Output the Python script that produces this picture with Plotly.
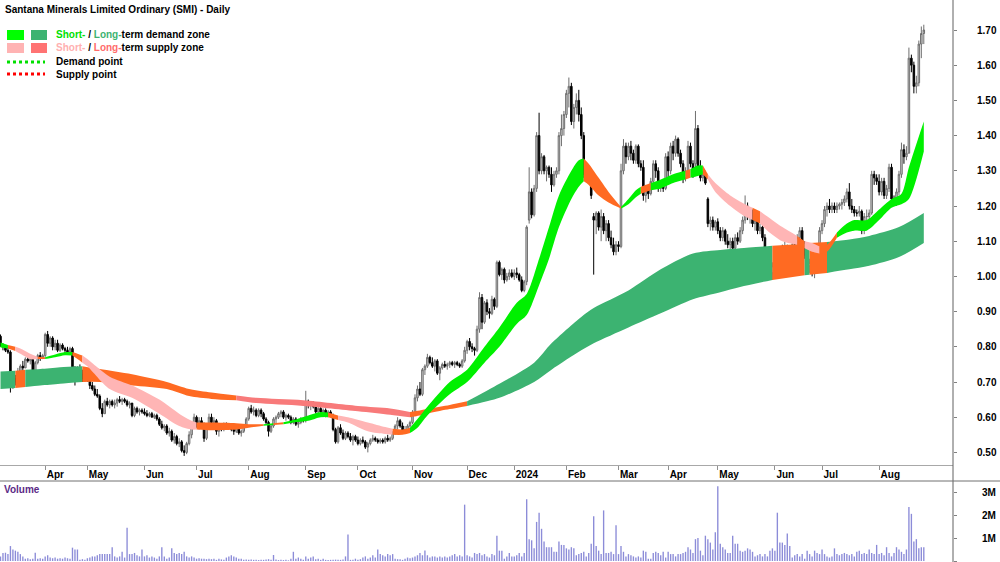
import pandas as pd
import plotly.graph_objects as go

# ---------------- calendar (ASX trading days) ----------------
holidays = ["2023-04-07", "2023-04-10", "2023-04-25", "2023-06-12", "2023-12-25", "2023-12-26",
            "2024-01-01", "2024-01-26", "2024-03-29", "2024-04-01", "2024-04-25", "2024-06-10"]
days = [d for d in pd.bdate_range("2023-03-08", "2024-08-27") if d.strftime("%Y-%m-%d") not in holidays]

# ---------------- OHLC (A$) ----------------
opens = [
    .83, .805, .80, .79, .785, .69, .71, .70, .73, .745, .74, .765, .76, .765, .725, .755, .775, .77,
    .775, .835, .81, .825, .80, .81, .79, .805, .795, .79, .785, .795, .735, .72, .74, .725, .71,
    .72, .705, .69, .68, .665, .66, .625, .61, .645, .635, .645, .635, .64, .65, .645, .65, .645, .635, .64, .605, .625, .615, .62,
    .615, .61, .605, .61, .60, .605, .595, .58, .57, .575, .555, .56, .535, .545, .525, .53, .505, .50, .525, .55, .575,
    .60, .575, .59, .58, .54, .57, .60, .585, .59, .56, .575, .565, .58, .575, .578, .565, .56, .57, .555, .56, .575,
    .595, .625, .615, .62, .605, .62, .61, .595, .585, .56, .575, .595, .60, .61, .615, .60, .605, .60, .585, .595, .58, .585, .595,
    .59, .645, .635, .64, .63, .615, .625, .615, .62, .605, .615, .605, .565, .53, .57, .555, .54, .555, .545, .535, .545,
    .535, .525, .535, .53, .515, .525, .535, .54, .535, .53, .535, .53, .54, .535, .54, .555, .575, .59, .575, .56, .565, .575,
    .585, .61, .655, .68, .665, .735, .745, .77, .755, .745, .76, .725, .74, .75, .745, .75, .755, .75, .755, .75, .745, .76,
    .79, .815, .80, .795, .79, .85, .94, .87, .925, .90, .895, .935, .915, 1.04, 1.005, 1.02, .99, 1.00, 1.01,
    1.00, 1.01, 1.005, .99, .96, .985, 1.16, 1.24, 1.175, 1.25, 1.40, 1.30, 1.34, 1.30, 1.31, 1.29, 1.26, 1.29, 1.30, 1.40, 1.42,
    1.46, 1.52, 1.54, 1.44, 1.48, 1.50, 1.46, 1.40, 1.29, 1.30, 1.28, 1.17, 1.16, 1.18, 1.14, 1.17, 1.13, 1.15, 1.11, 1.09, 1.07,
    1.09, 1.085, 1.30, 1.37, 1.34, 1.37, 1.35, 1.33, 1.37, 1.32, 1.31, 1.23, 1.25, 1.235, 1.27, 1.32, 1.30, 1.25, 1.26, 1.25,
    1.34, 1.30, 1.37, 1.35, 1.39, 1.35, 1.32, 1.28, 1.30, 1.37, 1.32, 1.32, 1.42, 1.31, 1.28, 1.29, 1.22, 1.15, 1.16, 1.14,
    1.155, 1.13, 1.11, 1.13, 1.10, 1.09, 1.10, 1.08, 1.11, 1.10, 1.13, 1.16, 1.20, 1.17, 1.18, 1.15, 1.16, 1.13, 1.14, 1.11, 1.05, 1.07, 1.01,
    1.03, 1.05, 1.03, 1.07, 1.06, 1.08, 1.05, 1.07, 1.09, 1.05, 1.11, 1.13, 1.09, 1.06, 1.03, 1.04, 1.01, 1.02, 1.05,
    1.13, 1.15, 1.19, 1.20, 1.19, 1.20, 1.19, 1.20, 1.205, 1.21, 1.22, 1.24, 1.20, 1.19, 1.18, 1.18, 1.185, 1.13, 1.17, 1.17, 1.18, 1.29, 1.28,
    1.27, 1.24, 1.27, 1.23, 1.25, 1.31, 1.22, 1.21, 1.24, 1.29, 1.36, 1.34, 1.35, 1.62, 1.60, 1.54, 1.55, 1.66, 1.69,
]
highs = [
    .835, .81, .805, .80, .79, .72, .72, .74, .75, .76, .77, .775, .77, .765, .76, .78, .785, .78,
    .84, .845, .83, .83, .82, .82, .81, .81, .80, .80, .80, .80, .745, .745, .75, .735, .73,
    .725, .71, .70, .69, .68, .665, .64, .65, .655, .65, .65, .65, .655, .66, .655, .655, .65, .645, .64, .63, .63, .625, .625,
    .625, .62, .615, .615, .61, .61, .60, .59, .58, .58, .57, .565, .555, .55, .54, .535, .52, .53, .56, .58, .61,
    .605, .60, .60, .585, .575, .61, .61, .60, .595, .58, .58, .585, .585, .58, .58, .57, .575, .575, .565, .58, .60,
    .63, .635, .63, .625, .625, .625, .615, .60, .59, .58, .60, .605, .615, .62, .62, .61, .61, .605, .60, .60, .59, .60, .60,
    .675, .65, .645, .645, .64, .63, .63, .625, .625, .62, .62, .61, .57, .575, .58, .565, .56, .56, .555, .55, .55,
    .545, .54, .545, .535, .53, .54, .55, .545, .54, .54, .54, .545, .55, .545, .56, .58, .60, .595, .585, .575, .58, .59,
    .62, .665, .69, .70, .74, .75, .78, .775, .77, .765, .765, .745, .755, .76, .755, .76, .76, .76, .76, .755, .765, .80,
    .82, .825, .81, .80, .86, .955, .95, .93, .935, .91, .945, .94, 1.045, 1.045, 1.025, 1.025, 1.01, 1.02, 1.02,
    1.02, 1.025, 1.01, 1.00, .99, 1.145, 1.31, 1.25, 1.26, 1.41, 1.465, 1.35, 1.345, 1.315, 1.315, 1.31, 1.30, 1.31, 1.41, 1.46, 1.47,
    1.53, 1.565, 1.55, 1.49, 1.52, 1.53, 1.48, 1.41, 1.32, 1.31, 1.29, 1.18, 1.185, 1.185, 1.19, 1.18, 1.16, 1.16, 1.13, 1.11, 1.10,
    1.10, 1.32, 1.39, 1.38, 1.38, 1.385, 1.36, 1.375, 1.375, 1.33, 1.33, 1.26, 1.255, 1.28, 1.33, 1.33, 1.31, 1.27, 1.27, 1.35,
    1.355, 1.38, 1.385, 1.40, 1.395, 1.36, 1.33, 1.31, 1.385, 1.38, 1.33, 1.47, 1.43, 1.33, 1.30, 1.30, 1.225, 1.17, 1.17, 1.16,
    1.165, 1.14, 1.14, 1.135, 1.12, 1.11, 1.11, 1.12, 1.125, 1.14, 1.17, 1.23, 1.21, 1.19, 1.19, 1.17, 1.17, 1.15, 1.145, 1.12, 1.08, 1.085, 1.04,
    1.06, 1.07, 1.08, 1.09, 1.10, 1.09, 1.08, 1.10, 1.10, 1.12, 1.14, 1.14, 1.10, 1.07, 1.05, 1.045, 1.03, 1.06, 1.14,
    1.16, 1.20, 1.21, 1.22, 1.21, 1.21, 1.21, 1.21, 1.22, 1.23, 1.25, 1.265, 1.22, 1.20, 1.19, 1.20, 1.19, 1.18, 1.19, 1.19, 1.30, 1.30, 1.29,
    1.29, 1.28, 1.28, 1.26, 1.32, 1.32, 1.23, 1.25, 1.30, 1.38, 1.375, 1.37, 1.65, 1.63, 1.61, 1.57, 1.67, 1.71, 1.715,
]
lows = [
    .80, .79, .785, .78, .67, .68, .69, .70, .72, .73, .74, .755, .75, .72, .72, .75, .76, .765,
    .77, .80, .80, .79, .79, .785, .785, .79, .78, .78, .78, .73, .69, .715, .72, .70, .70,
    .70, .68, .675, .66, .655, .62, .60, .61, .63, .625, .63, .625, .63, .64, .635, .64, .63, .625, .60, .60, .61, .605, .61,
    .605, .60, .60, .60, .595, .59, .575, .565, .56, .55, .545, .53, .525, .52, .515, .50, .49, .495, .52, .54, .57,
    .57, .565, .57, .53, .535, .565, .58, .575, .55, .545, .56, .56, .57, .57, .56, .55, .555, .55, .545, .555, .57,
    .59, .61, .605, .60, .60, .60, .59, .58, .545, .555, .57, .58, .595, .60, .595, .59, .595, .58, .58, .575, .57, .58, .585,
    .585, .625, .62, .625, .61, .61, .61, .60, .60, .60, .60, .56, .525, .525, .55, .535, .535, .54, .53, .52, .53,
    .52, .52, .525, .51, .50, .52, .53, .53, .525, .525, .525, .525, .53, .53, .535, .55, .565, .57, .555, .555, .56, .57,
    .58, .605, .645, .66, .66, .72, .74, .75, .74, .73, .72, .705, .735, .74, .735, .74, .745, .74, .745, .74, .74, .755,
    .78, .79, .785, .775, .785, .84, .85, .865, .89, .88, .89, .905, .91, 1.00, .99, .98, .985, .99, .995,
    .99, .995, .985, .955, .955, .975, 1.15, 1.165, 1.17, 1.24, 1.29, 1.29, 1.29, 1.27, 1.28, 1.24, 1.255, 1.28, 1.29, 1.37, 1.40,
    1.45, 1.48, 1.43, 1.42, 1.46, 1.44, 1.39, 1.28, 1.27, 1.27, 1.22, 1.005, 1.12, 1.13, 1.10, 1.12, 1.10, 1.10, 1.08, 1.06, 1.06,
    1.07, 1.08, 1.29, 1.32, 1.33, 1.33, 1.32, 1.32, 1.31, 1.30, 1.215, 1.21, 1.22, 1.23, 1.26, 1.28, 1.24, 1.24, 1.24, 1.245,
    1.28, 1.29, 1.33, 1.34, 1.34, 1.31, 1.265, 1.27, 1.29, 1.31, 1.28, 1.30, 1.30, 1.27, 1.27, 1.26, 1.14, 1.13, 1.13, 1.13,
    1.12, 1.10, 1.10, 1.09, 1.08, 1.075, 1.07, 1.075, 1.09, 1.095, 1.12, 1.15, 1.16, 1.15, 1.14, 1.13, 1.12, 1.12, 1.10, 1.04, 1.02, 1.00, .99,
    1.00, 1.02, 1.02, 1.05, 1.05, 1.04, 1.04, 1.06, 1.04, 1.05, 1.10, 1.08, 1.05, 1.02, 1.01, 1.00, .995, 1.01, 1.04,
    1.12, 1.14, 1.17, 1.18, 1.18, 1.18, 1.18, 1.19, 1.19, 1.20, 1.21, 1.19, 1.18, 1.17, 1.17, 1.17, 1.12, 1.12, 1.16, 1.16, 1.175, 1.26, 1.26,
    1.23, 1.23, 1.22, 1.22, 1.24, 1.21, 1.20, 1.20, 1.23, 1.28, 1.32, 1.33, 1.35, 1.58, 1.52, 1.52, 1.54, 1.62, 1.66,
]
closes = [
    .805, .80, .79, .785, .69, .71, .70, .73, .745, .74, .765, .76, .765, .725, .755, .775, .77, .775,
    .835, .81, .825, .80, .81, .79, .805, .795, .79, .785, .795, .735, .72, .74, .725, .71, .72,
    .705, .69, .68, .665, .66, .625, .61, .645, .635, .645, .635, .64, .65, .645, .65, .645, .635, .64, .605, .625, .615, .62, .615,
    .61, .605, .61, .60, .605, .595, .58, .57, .575, .555, .56, .535, .545, .525, .53, .505, .50, .525, .55, .575, .60,
    .575, .59, .58, .54, .57, .60, .585, .59, .56, .575, .565, .58, .575, .578, .565, .56, .57, .555, .56, .575, .595,
    .625, .615, .62, .605, .62, .61, .595, .585, .56, .575, .595, .60, .61, .615, .60, .605, .60, .585, .595, .58, .585, .595, .59,
    .645, .635, .64, .63, .615, .625, .615, .62, .605, .615, .605, .565, .53, .57, .555, .54, .555, .545, .535, .545, .535,
    .525, .535, .53, .515, .525, .535, .54, .535, .53, .535, .53, .54, .535, .54, .555, .575, .59, .575, .56, .565, .575, .585,
    .61, .655, .68, .665, .735, .745, .77, .755, .745, .76, .725, .74, .75, .745, .75, .755, .75, .755, .75, .745, .76, .79,
    .815, .80, .795, .79, .85, .94, .87, .925, .90, .895, .935, .915, 1.04, 1.005, 1.02, .99, 1.00, 1.01, 1.00,
    1.01, 1.005, .99, .96, .985, 1.14, 1.24, 1.175, 1.25, 1.40, 1.30, 1.34, 1.30, 1.31, 1.29, 1.26, 1.29, 1.30, 1.40, 1.42, 1.46,
    1.52, 1.54, 1.44, 1.48, 1.50, 1.46, 1.40, 1.29, 1.30, 1.28, 1.23, 1.16, 1.18, 1.14, 1.17, 1.13, 1.15, 1.11, 1.09, 1.07, 1.09,
    1.085, 1.30, 1.37, 1.34, 1.37, 1.35, 1.33, 1.37, 1.32, 1.31, 1.23, 1.25, 1.235, 1.27, 1.32, 1.30, 1.25, 1.26, 1.25, 1.34,
    1.30, 1.37, 1.35, 1.39, 1.35, 1.32, 1.28, 1.30, 1.37, 1.32, 1.30, 1.42, 1.31, 1.28, 1.29, 1.265, 1.15, 1.16, 1.14, 1.155,
    1.13, 1.11, 1.13, 1.10, 1.09, 1.10, 1.08, 1.11, 1.10, 1.13, 1.16, 1.20, 1.17, 1.18, 1.15, 1.16, 1.13, 1.14, 1.11, 1.05, 1.07, 1.01, 1.03,
    1.05, 1.03, 1.07, 1.06, 1.08, 1.05, 1.07, 1.09, 1.05, 1.11, 1.13, 1.09, 1.06, 1.03, 1.04, 1.01, 1.02, 1.05, 1.13,
    1.15, 1.19, 1.20, 1.19, 1.20, 1.19, 1.20, 1.205, 1.21, 1.22, 1.24, 1.20, 1.19, 1.18, 1.18, 1.185, 1.13, 1.17, 1.17, 1.18, 1.29, 1.28, 1.27,
    1.24, 1.27, 1.23, 1.25, 1.31, 1.22, 1.21, 1.24, 1.29, 1.36, 1.34, 1.35, 1.62, 1.60, 1.54, 1.55, 1.66, 1.69, 1.70,
]
# volume, millions of shares
volumes_m = [
    .2, .35, .36, .3, .65, .5, .45, .4, .3, .2, .1, .12, .08, .1, .36, .1, .12, .1,
    .2, .25, .15, .12, .15, .1, .12, .1, .15, .12, .1, .58, .5, .5, .05, .08, .05,
    .12, .15, .2, .2, .25, .3, .3, .3, .3, .3, .6, .2, .15, .2, .4, .15, 1.45, .3, .3, .35, .25, .2, .5,
    .2, .25, .15, .2, .15, .1, .2, .6, .2, .1, .15, .55, .35, .3, .35, .3, .4, .2, .15, .2, .15,
    .1, .12, .1, .1, .08, .1, .08, .1, .05, .1, .07, .05, .15, .2, .25, .2, .15, .1, .1, .05, .07,
    .05, .07, .05, .05, .04, .05, .05, .06, .08, .05, .26, .06, .04, .05, .04, .05, .03, .1, .4, .1, .15, .1, .05,
    .2, .1, .15, .2, .08, .1, .05, .1, .05, .04, .05, .05, .06, .05, .05, .06, .2, 1.15, .05, .05, .1,
    .05, .08, .15, .2, .1, .15, .25, .15, .5, .3, .25, .2, .3, .25, .3, .1, .08, .08, .05, .1, .15, .12,
    .15, .2, .25, .35, .25, .46, .25, .15, .2, .2, .15, .2, .15, .2, .15, .2, .25, .3, .2, .25, .2, 2.45,
    .25, .2, .15, .35, .3, .35, .25, .3, .2, .15, .3, .25, 1.1, .45, .45, .1, .2, .35, .2,
    .2, .25, .35, .2, .35, 2.68, .95, .9, .55, 1.7, 2.1, 1.4, .85, .6, .6, .6, .4, .4, .85, .7, .7,
    .55, .5, .6, .55, .25, .3, .35, .4, .2, .35, .75, 1.95, .65, .45, .3, 2.2, .35, .35, .4, .3, 1.55,
    .3, .65, .4, .2, .3, .25, .2, .15, .2, .15, .45, .4, .1, .1, .35, .4, .35, .25, .4, .15,
    .4, .3, .3, .2, .3, .3, .35, .4, .6, .5, .35, .95, 1.0, .45, .25, 1.1, .95, .8, .5, 1.25,
    3.25, .75, .6, .5, .35, .35, 1.1, .75, .75, .45, .4, .45, .55, .5, .4, .2, .25, .3, .2, .3, .2, .45, .55,
    .45, 2.1, .8, .8, .7, 1.2, .65, .15, .25, .3, .2, .3, .1, .45, .3, .2, .45, .35, .3,
    .5, .3, .2, .15, .2, .55, .3, .25, .3, .35, .3, .25, .3, .2, .4, .45, .3, .35, .3, .5, .35, .3, .7,
    .3, .35, .25, .6, .35, .2, .35, .6, .5, .4, .3, .5, 2.35, 2.05, .85, .95, .55, .6, .6,
]

# ---------------- zone bands (trading-day number, upper, lower) ----------------
lt_day = [0, 6, 10, 16, 24, 33, 40, 53, 67, 76, 85, 95, 103, 122, 144, 157, 165, 167, 173, 181,
          188, 201, 215, 222, 234, 239, 253, 266, 279, 290, 298, 311, 324, 326, 333, 342, 350, 362, 372]
lt_top = [.73, .732, .735, .737, .742, .745, .737, .722, .70, .68, .67, .662, .655, .648, .632, .625, .615, .617, .625, .635,
          .645, .695, .755, .81, .885, .91, .96, 1.02, 1.065, 1.075, 1.08, 1.087, 1.093, 1.095, 1.098, 1.105, 1.115, 1.14, 1.18]
lt_bot = [.68, .683, .686, .69, .695, .70, .70, .69, .68, .66, .652, .648, .64, .632, .617, .607, .60, .602, .612, .623,
          .632, .655, .70, .735, .79, .81, .855, .895, .935, .955, .97, .99, 1.003, 1.005, 1.01, 1.02, 1.03, 1.055, 1.095]
lt_zone = [(0, 6, "ltd"), (6, 10, "mix"), (10, 33, "ltd"), (33, 95, "mix"), (95, 165, "lts"), (165, 188, "mix"),
           (188, 311, "ltd"), (311, 324, "mix"), (324, 326, "ltd"), (326, 333, "mix"), (333, 372, "ltd")]

st_day = [0, 3, 6, 8, 12, 15, 18, 22, 26, 29, 31, 33, 35, 44, 53, 64, 72, 77, 79, 85, 95, 100, 106, 110, 114, 118,
          124, 129, 132, 136, 140, 148, 155, 158, 162, 165, 168, 172, 181, 188, 195, 201, 208, 212, 217, 221, 225,
          230, 233, 235, 237, 241, 245, 250, 253, 256, 258, 262, 266, 271, 276, 278, 281, 283, 285, 288, 294, 300,
          303, 306, 309, 315, 321, 324, 327, 330, 333, 337, 341, 344, 349, 354, 359, 363, 366, 372]
st_top = [.812, .805, .80, .795, .78, .772, .77, .778, .785, .785, .78, .775, .765, .715, .69, .65, .61, .59, .585, .585,
          .583, .58, .58, .583, .586, .592, .605, .615, .613, .605, .60, .585, .572, .567, .565, .57, .595, .63, .70,
          .735, .80, .855, .925, .95, 1.05, 1.14, 1.23, 1.30, 1.33, 1.335, 1.32, 1.28, 1.24, 1.197, 1.22, 1.245, 1.255,
          1.265, 1.275, 1.29, 1.30, 1.305, 1.315, 1.315, 1.29, 1.265, 1.23, 1.205, 1.195, 1.185, 1.17, 1.14, 1.115,
          1.10, 1.095, 1.085, 1.09, 1.125, 1.15, 1.16, 1.16, 1.19, 1.22, 1.235, 1.31, 1.44]
st_bot = [.798, .795, .788, .78, .765, .765, .765, .77, .776, .775, .765, .755, .745, .68, .655, .61, .575, .565, .565, .563,
          .565, .57, .576, .578, .58, .585, .59, .60, .60, .592, .585, .56, .552, .55, .55, .555, .57, .605, .665,
          .70, .755, .80, .865, .89, .975, 1.05, 1.14, 1.22, 1.255, 1.27, 1.26, 1.23, 1.21, 1.193, 1.205, 1.225, 1.235,
          1.245, 1.25, 1.265, 1.275, 1.28, 1.285, 1.29, 1.275, 1.24, 1.20, 1.17, 1.16, 1.15, 1.13, 1.10, 1.09,
          1.08, 1.07, 1.065, 1.07, 1.11, 1.125, 1.13, 1.13, 1.16, 1.195, 1.205, 1.22, 1.355]
st_zone = [(0, 3, "std"), (3, 6, "mix"), (6, 15, "sts"), (15, 18, "mix"), (18, 29, "std"), (29, 33, "mix"),
           (33, 79, "sts"), (79, 106, "mix"), (106, 110, "std"), (110, 114, "mix"), (114, 132, "std"),
           (132, 136, "mix"), (136, 158, "sts"), (158, 165, "mix"), (165, 235, "std"), (235, 250, "mix"),
           (250, 258, "std"), (258, 262, "mix"), (262, 276, "std"), (276, 278, "mix"), (278, 283, "std"),
           (283, 285, "mix"), (285, 303, "sts"), (303, 306, "mix"), (306, 321, "sts"), (321, 324, "mix"),
           (324, 330, "sts"), (330, 337, "mix"), (337, 372, "std")]

assert len(days) == len(opens) == len(highs) == len(lows) == len(closes) == len(volumes_m), (
    len(days), len(opens), len(highs), len(lows), len(closes), len(volumes_m))
assert len(lt_day) == len(lt_top) == len(lt_bot)
assert len(st_day) == len(st_top) == len(st_bot)

# ---------------- styling ----------------
ZONE_COL = {"std": "#00F000", "ltd": "#3CB371", "sts": "#FFB5B5", "lts": "#F87A7A", "mix": "#FF6A22"}
FONT = "Liberation Sans, Arial, sans-serif"
W, H = 1000, 562
PLOT_R = 953           # right edge of plotting area (px)
PRICE_BOTTOM = 465     # px
VOL_TOP = 481          # px
PX_PER_DAY = 2.482
X0 = -0.2
x_range = [X0, X0 + PLOT_R / PX_PER_DAY]

xs = list(range(len(days)))

fig = go.Figure()


def add_band(bday, btop, bbot, zones):
    for a, b, key in zones:
        idx = [k for k, d in enumerate(bday) if a <= d <= b]
        bx = [bday[k] for k in idx]
        fig.add_trace(go.Scatter(x=bx, y=[btop[k] for k in idx], mode="lines",
                                 line=dict(width=0, shape="spline", smoothing=0.8),
                                 hoverinfo="skip", showlegend=False, xaxis="x", yaxis="y"))
        fig.add_trace(go.Scatter(x=bx, y=[bbot[k] for k in idx], mode="lines",
                                 line=dict(width=0, shape="spline", smoothing=0.8),
                                 fill="tonexty", fillcolor=ZONE_COL[key], hoverinfo="skip",
                                 showlegend=False, xaxis="x", yaxis="y"))


add_band(lt_day, lt_top, lt_bot, lt_zone)
add_band(st_day, st_top, st_bot, st_zone)

fig.add_trace(go.Candlestick(
    x=xs, open=opens, high=highs, low=lows, close=closes,
    increasing=dict(line=dict(color="#6E6E6E", width=1), fillcolor="#CFCFCF"),
    decreasing=dict(line=dict(color="#000000", width=1), fillcolor="#000000"),
    whiskerwidth=0, hoverinfo="skip", showlegend=False, xaxis="x", yaxis="y"))

fig.add_trace(go.Bar(x=xs, y=volumes_m, marker=dict(color="#8C8CD8", line=dict(width=0)), width=0.55,
                     hoverinfo="skip", showlegend=False, xaxis="x2", yaxis="y2"))

# month ticks
month_idx, month_lbl = [], []
prev = None
for k, d in enumerate(days):
    key = (d.year, d.month)
    if prev is not None and key != prev:
        month_idx.append(k)
        month_lbl.append(str(d.year) if d.month == 1 else d.strftime("%b"))
    prev = key
CW = {"A": .722, "p": .611, "r": .389, "M": .833, "a": .556, "y": .556, "J": .556, "u": .611, "n": .611,
      "l": .278, "g": .611, "S": .667, "e": .556, "O": .778, "c": .556, "t": .333, "N": .722, "o": .611,
      "v": .556, "D": .722, "F": .611, "b": .611, "2": .556, "0": .556, "4": .556}
label_pos = [i + (1.5 + 10 * sum(CW.get(ch, .6) for ch in s) / 2) / PX_PER_DAY
             for i, s in zip(month_idx, month_lbl)]

price_dom = [1 - PRICE_BOTTOM / H, 1]
vol_dom = [0, 1 - VOL_TOP / H]
p_top = 1.70 + 30 / 352
p_bot = 1.70 - (PRICE_BOTTOM - 30) / 352
v_bot = -1 / 23
v_top = v_bot + (H - VOL_TOP) / 23

tick_font = dict(family=FONT, size=10, color="#000000", weight="bold")

fig.update_layout(
    width=W, height=H, margin=dict(l=0, r=W - PLOT_R, t=0, b=0),
    paper_bgcolor="white", plot_bgcolor="white", showlegend=False, hovermode=False,
    boxgap=0.12,
    font=dict(family=FONT, size=10, color="#000000"),
    xaxis=dict(domain=[0, 1], anchor="y", range=x_range, showgrid=False, zeroline=False,
               showline=True, linecolor="#A8A8A8", linewidth=1,
               tickmode="array", tickvals=label_pos, ticktext=month_lbl, ticks="",
               tickfont=tick_font, ticklabelstandoff=0,
               minor=dict(tickmode="array", tickvals=month_idx, ticks="outside", ticklen=4,
                          tickcolor="#909090", tickwidth=1, showgrid=False),
               rangeslider=dict(visible=False), fixedrange=True),
    yaxis=dict(domain=price_dom, anchor="x", side="right", range=[p_bot, p_top],
               tickmode="array", tickvals=[0.5, 0.6, 0.7, 0.8, 0.9, 1.0, 1.1, 1.2, 1.3, 1.4, 1.5, 1.6, 1.7],
               tickformat=".2f", ticks="outside", ticklen=3, tickcolor="#808080",
               tickfont=tick_font, ticklabelstandoff=18,
               showgrid=False, zeroline=False, showline=False, fixedrange=True),
    xaxis2=dict(domain=[0, 1], anchor="y2", matches="x", range=x_range, showticklabels=False,
                ticks="", showgrid=False, zeroline=False, showline=False, fixedrange=True),
    yaxis2=dict(domain=vol_dom, anchor="x2", side="right", range=[v_bot, v_top],
                tickmode="array", tickvals=[0, 1, 2, 3], ticktext=["0", "1M", "2M", "3M"],
                ticks="outside", ticklen=3, tickcolor="#808080", tickfont=tick_font, ticklabelstandoff=23,
                showgrid=False, zeroline=False, showline=False, fixedrange=True),
)


def px(xp):
    return xp / PLOT_R


def py(yp):
    return 1 - yp / H


shapes = [
    dict(type="line", xref="paper", yref="paper", x0=1, x1=1, y0=0, y1=1,
         line=dict(color="#606060", width=1)),
    dict(type="line", xref="paper", yref="paper", x0=0, x1=W / PLOT_R, y0=py(VOL_TOP), y1=py(VOL_TOP),
         line=dict(color="#707070", width=1)),
    # legend swatches
    dict(type="rect", xref="paper", yref="paper", x0=px(7), x1=px(24), y0=py(40), y1=py(30),
         fillcolor="#00FF00", line=dict(width=0)),
    dict(type="rect", xref="paper", yref="paper", x0=px(31), x1=px(47), y0=py(40), y1=py(30),
         fillcolor="#3CB371", line=dict(width=0)),
    dict(type="rect", xref="paper", yref="paper", x0=px(7), x1=px(24), y0=py(53), y1=py(43),
         fillcolor="#FFB3B3", line=dict(width=0)),
    dict(type="rect", xref="paper", yref="paper", x0=px(31), x1=px(47), y0=py(53), y1=py(43),
         fillcolor="#FF7373", line=dict(width=0)),
    dict(type="line", xref="paper", yref="paper", x0=px(7), x1=px(45), y0=py(62), y1=py(62),
         line=dict(color="#00E000", width=3, dash="dot")),
    dict(type="line", xref="paper", yref="paper", x0=px(7), x1=px(45), y0=py(74), y1=py(74),
         line=dict(color="#FF0000", width=3, dash="dot")),
]
fig.update_layout(shapes=shapes)

ann_font = dict(family=FONT, size=10, color="#000000", weight="bold")
annotations = [
    dict(text="Santana Minerals Limited Ordinary (SMI) - Daily", x=px(3), y=py(9)),
    dict(text="<span style='color:#00E000'>Short-</span> / <span style='color:#3CB371'>Long-</span>term demand zone",
         x=px(54), y=py(35)),
    dict(text="<span style='color:#FFB0B0'>Short-</span> / <span style='color:#FF6B6B'>Long-</span>term supply zone",
         x=px(54), y=py(48)),
    dict(text="Demand point", x=px(54), y=py(62)),
    dict(text="Supply point", x=px(54), y=py(74)),
]
ann = [dict(a, xref="paper", yref="paper", xanchor="left", yanchor="middle", showarrow=False, font=ann_font)
       for a in annotations]
ann.append(dict(text="Volume", x=px(2), y=py(489), xref="paper", yref="paper", xanchor="left",
                yanchor="middle", showarrow=False,
                font=dict(family=FONT, size=10, color="#5B2A86", weight="bold")))
fig.update_layout(annotations=ann)

fig.write_html("out.html", config={"displayModeBar": False, "staticPlot": True})
